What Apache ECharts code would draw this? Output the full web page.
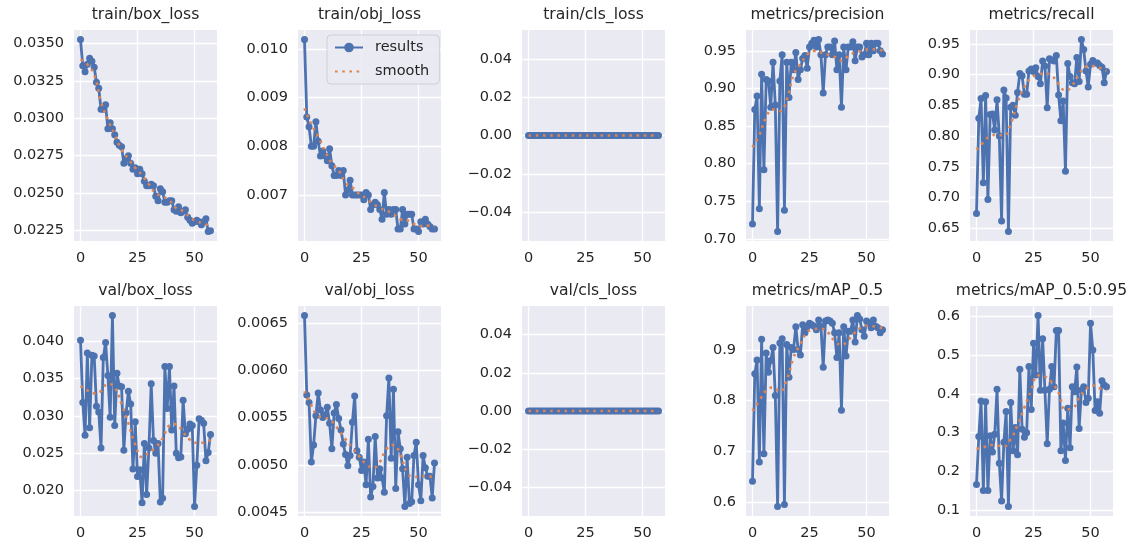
<!DOCTYPE html>
<html>
<head>
<meta charset="UTF-8">
<title>results</title>
<script src="https://cdn.jsdelivr.net/npm/echarts@6.0.0/dist/echarts.min.js"></script>
<style>
  body { margin: 0; background: #fff; }
  #main { width: 1134px; height: 546px; }
</style>
</head>
<body>
<div id="main"></div>
<script>
// epochs 0..57
const epochs = Array.from({ length: 58 }, (_, i) => i);
const smoothEpochs = [0, 3, 6, 9, 12, 15, 18, 21, 24, 27, 30, 33, 36, 39, 42, 45, 48, 51, 54, 57];

const trainBox = [0.03525,0.0335,0.0331,0.0336,0.0340,0.0338,0.0334,0.0324,0.0320,0.0306,
  0.0306,0.0309,0.0293,0.0297,0.0293,0.0289,0.0284,0.0282,0.0281,0.0270,
  0.0273,0.0275,0.0270,0.0266,0.0267,0.0263,0.0266,0.0263,0.0258,0.0255,
  0.0255,0.0256,0.0255,0.0248,0.0245,0.0253,0.0251,0.0244,0.0244,0.0245,
  0.0245,0.0239,0.0238,0.0241,0.0237,0.0238,0.0239,0.0234,0.0232,0.0230,
  0.0231,0.0232,0.0231,0.0229,0.0231,0.0233,0.02245,0.0225];
const trainBoxSmooth = [0.0339,0.0336,0.0329,0.0311,0.0299,0.0289,0.0279,0.0273,0.0267,0.0262,
  0.0256,0.0250,0.0248,0.0245,0.0240,0.0238,0.0234,0.0231,0.0230,0.0227];

const trainObj = [0.01019,0.0086,0.0084,0.0080,0.0080,0.0085,0.0081,0.0078,0.0079,0.0078,
  0.0077,0.00795,0.0076,0.0074,0.0074,0.0075,0.0074,0.0075,0.0070,0.0071,
  0.0073,0.0070,0.0070,0.0070,0.0070,0.0070,0.0069,0.00705,0.0070,0.0067,
  0.0068,0.00685,0.0068,0.0067,0.0065,0.00705,0.0066,0.0067,0.0066,0.0067,
  0.0067,0.0063,0.0063,0.0067,0.0064,0.0066,0.0066,0.0066,0.0063,0.0063,
  0.00625,0.00645,0.0064,0.0065,0.0064,0.00635,0.0063,0.0063];
const trainObjSmooth = [0.00878,0.00845,0.00820,0.00790,0.00765,0.00750,0.00725,0.00715,0.00702,0.00693,
  0.00682,0.00673,0.00668,0.00660,0.00650,0.00648,0.00640,0.00636,0.00637,0.00635];

const trainCls = [0,0,0,0,0,0,0,0,0,0,0,0,0,0,0,0,0,0,0,0,0,0,0,0,0,0,0,0,0,0,
  0,0,0,0,0,0,0,0,0,0,0,0,0,0,0,0,0,0,0,0,0,0,0,0,0,0,0,0];
const trainClsSmooth = [0,0,0,0,0,0,0,0,0,0,0,0,0,0,0,0,0,0,0,0];

const precision = [0.720,0.872,0.890,0.740,0.919,0.792,0.912,0.910,0.875,0.935,
  0.878,0.710,0.910,0.945,0.738,0.935,0.888,0.935,0.925,0.948,
  0.912,0.925,0.940,0.944,0.927,0.955,0.960,0.964,0.955,0.965,
  0.945,0.894,0.945,0.955,0.955,0.945,0.963,0.925,0.945,0.875,
  0.955,0.925,0.955,0.955,0.962,0.937,0.955,0.955,0.942,0.945,
  0.960,0.945,0.960,0.950,0.960,0.960,0.950,0.946];
const precisionSmooth = [0.822,0.838,0.862,0.872,0.870,0.885,0.918,0.932,0.945,0.950,
  0.948,0.945,0.942,0.937,0.943,0.948,0.950,0.952,0.952,0.950];

const recall = [0.674,0.829,0.861,0.724,0.866,0.697,0.835,0.836,0.810,0.859,
  0.800,0.662,0.875,0.862,0.645,0.847,0.850,0.834,0.871,0.902,
  0.898,0.868,0.868,0.906,0.909,0.905,0.911,0.897,0.885,0.922,
  0.914,0.846,0.926,0.924,0.922,0.931,0.867,0.825,0.857,0.743,
  0.918,0.897,0.887,0.885,0.928,0.889,0.957,0.941,0.906,0.880,
  0.917,0.923,0.919,0.919,0.915,0.912,0.887,0.905];
const recallSmooth = [0.778,0.790,0.800,0.802,0.801,0.820,0.855,0.880,0.895,0.900,
  0.902,0.898,0.885,0.874,0.883,0.900,0.913,0.914,0.911,0.906];

const valBox = [0.0401,0.0318,0.0274,0.0384,0.0284,0.0381,0.0380,0.0313,0.0305,0.0257,
  0.0378,0.0398,0.0354,0.0298,0.0434,0.0287,0.0357,0.0340,0.0339,0.0254,
  0.0304,0.0333,0.0316,0.0229,0.0292,0.0219,0.0228,0.0184,0.0263,0.0195,
  0.0257,0.0343,0.0267,0.0250,0.0263,0.0185,0.0190,0.0366,0.0310,0.0366,
  0.0281,0.0340,0.0250,0.0244,0.0245,0.0321,0.0276,0.0282,0.0289,0.0287,
  0.0179,0.0234,0.0296,0.0294,0.0290,0.0240,0.0251,0.0275];
const valBoxSmooth = [0.0340,0.0334,0.0330,0.0333,0.0343,0.0338,0.0316,0.0290,0.0262,0.0245,
  0.0251,0.0258,0.0270,0.0287,0.0289,0.0278,0.0268,0.0264,0.0264,0.0268];

const valObj = [0.00658,0.00574,0.00566,0.00503,0.00521,0.00552,0.00576,0.00558,0.00550,0.00553,
  0.00561,0.00544,0.00517,0.00555,0.00564,0.00549,0.00537,0.00522,0.00511,0.00499,
  0.00510,0.00545,0.00573,0.00515,0.00508,0.00494,0.00503,0.00479,0.00527,0.00466,
  0.00477,0.00530,0.00486,0.00496,0.00486,0.00471,0.00552,0.00592,0.00507,0.00580,
  0.00475,0.00535,0.00517,0.00496,0.00456,0.00508,0.00459,0.00461,0.00510,0.00524,
  0.00479,0.00462,0.00510,0.00497,0.00488,0.00488,0.00465,0.00502];
const valObjSmooth = [0.00578,0.00563,0.00552,0.00550,0.00546,0.00537,0.00527,0.00518,0.00509,0.00501,
  0.00497,0.00503,0.00517,0.00521,0.00511,0.00492,0.00487,0.00488,0.00488,0.00486];

const valCls = [0,0,0,0,0,0,0,0,0,0,0,0,0,0,0,0,0,0,0,0,0,0,0,0,0,0,0,0,0,0,
  0,0,0,0,0,0,0,0,0,0,0,0,0,0,0,0,0,0,0,0,0,0,0,0,0,0,0,0];
const valClsSmooth = [0,0,0,0,0,0,0,0,0,0,0,0,0,0,0,0,0,0,0,0];

const map50 = [0.641,0.853,0.880,0.679,0.921,0.695,0.894,0.856,0.879,0.905,
  0.810,0.591,0.914,0.922,0.595,0.911,0.846,0.905,0.901,0.946,
  0.901,0.890,0.950,0.934,0.946,0.953,0.950,0.947,0.940,0.959,
  0.947,0.866,0.957,0.959,0.957,0.953,0.934,0.885,0.934,0.781,
  0.946,0.888,0.937,0.937,0.959,0.916,0.968,0.961,0.940,0.927,
  0.957,0.953,0.944,0.959,0.947,0.944,0.934,0.940];
const map50Smooth = [0.780,0.800,0.820,0.826,0.818,0.840,0.885,0.912,0.935,0.941,
  0.942,0.935,0.918,0.910,0.920,0.935,0.945,0.948,0.946,0.943];

const map5095 = [0.166,0.290,0.382,0.150,0.380,0.150,0.292,0.250,0.296,0.412,
  0.221,0.123,0.275,0.355,0.109,0.378,0.253,0.313,0.243,0.464,
  0.309,0.288,0.300,0.471,0.360,0.531,0.449,0.603,0.410,0.543,
  0.410,0.271,0.412,0.471,0.419,0.564,0.564,0.253,0.325,0.228,
  0.363,0.261,0.419,0.406,0.470,0.311,0.410,0.419,0.378,0.389,
  0.583,0.514,0.357,0.380,0.350,0.434,0.423,0.419];
const map5095Smooth = [0.258,0.262,0.268,0.267,0.265,0.283,0.320,0.365,0.410,0.448,
  0.445,0.430,0.403,0.360,0.363,0.390,0.412,0.422,0.415,0.410];

// tick labels
const xTicks = [0, 25, 50];
const trainBoxTicks = [0.0225, 0.025, 0.0275, 0.03, 0.0325, 0.035];
const trainObjTicks = [0.007, 0.008, 0.009, 0.010];
const clsTicks = [-0.04, -0.02, 0, 0.02, 0.04];
const precisionTicks = [0.70, 0.75, 0.80, 0.85, 0.90, 0.95];
const recallTicks = [0.65, 0.70, 0.75, 0.80, 0.85, 0.90, 0.95];
const valBoxTicks = [0.020, 0.025, 0.030, 0.035, 0.040];
const valObjTicks = [0.0045, 0.0050, 0.0055, 0.0060, 0.0065];
const map50Ticks = [0.6, 0.7, 0.8, 0.9];
const map5095Ticks = [0.1, 0.2, 0.3, 0.4, 0.5, 0.6];

const panels = [
  { title: 'train/box_loss', y: trainBox, s: trainBoxSmooth, ticks: trainBoxTicks, digits: 4 },
  { title: 'train/obj_loss', y: trainObj, s: trainObjSmooth, ticks: trainObjTicks, digits: 3 },
  { title: 'train/cls_loss', y: trainCls, s: trainClsSmooth, ticks: clsTicks, digits: 2, flat: true },
  { title: 'metrics/precision', y: precision, s: precisionSmooth, ticks: precisionTicks, digits: 2 },
  { title: 'metrics/recall', y: recall, s: recallSmooth, ticks: recallTicks, digits: 2 },
  { title: 'val/box_loss', y: valBox, s: valBoxSmooth, ticks: valBoxTicks, digits: 3 },
  { title: 'val/obj_loss', y: valObj, s: valObjSmooth, ticks: valObjTicks, digits: 4 },
  { title: 'val/cls_loss', y: valCls, s: valClsSmooth, ticks: clsTicks, digits: 2, flat: true },
  { title: 'metrics/mAP_0.5', y: map50, s: map50Smooth, ticks: map50Ticks, digits: 1 },
  { title: 'metrics/mAP_0.5:0.95', y: map5095, s: map5095Smooth, ticks: map5095Ticks, digits: 1 }
];

const FONT = 'DejaVu Sans';
const TEXT = '#262626';
const BLUE = '#4C72B0';
const ORANGE = '#DD8452';

const grids = [], xAxes = [], yAxes = [], series = [], titles = [];

panels.forEach((p, i) => {
  const row = Math.floor(i / 5), col = i % 5;
  const left = 74 + col * 224;
  const top = row ? 306 : 30;
  const height = row ? 210 : 211;
  const width = 143;

  grids.push({ left: left, top: top, width: width, height: height, show: true,
    backgroundColor: '#EAEAF2', borderWidth: 0 });

  titles.push({ text: p.title, left: left + width / 2, top: row ? 283 : 7, textAlign: 'center', padding: 0,
    textStyle: { fontFamily: FONT, fontSize: 15.6, fontWeight: 'normal', color: TEXT } });

  xAxes.push({
    type: 'value', gridIndex: i, min: -2.85, max: 59.85,
    axisLine: { show: false },
    axisTick: { show: false, customValues: xTicks },
    axisLabel: { customValues: xTicks, fontFamily: FONT, fontSize: 14.5, color: TEXT, margin: 10 },
    splitLine: { show: true, lineStyle: { color: '#ffffff', width: 1.3 } }
  });

  const yAxis = {
    type: 'value', gridIndex: i,
    axisLine: { show: false },
    axisTick: { show: false, customValues: p.ticks },
    axisLabel: { customValues: p.ticks, fontFamily: FONT, fontSize: 14.5, color: TEXT, margin: 10,
      formatter: (v) => Number(v).toFixed(p.digits).replace('-', '\u2212') },
    splitLine: { show: true, lineStyle: { color: '#ffffff', width: 1.3 } }
  };
  if (p.flat) {
    yAxis.min = -0.055; yAxis.max = 0.055;
  } else {
    yAxis.min = (v) => v.min - 0.05 * (v.max - v.min);
    yAxis.max = (v) => v.max + 0.05 * (v.max - v.min);
  }
  yAxes.push(yAxis);

  series.push({
    name: 'results', type: 'line', xAxisIndex: i, yAxisIndex: i,
    data: epochs.map((e, k) => [e, p.y[k]]),
    symbol: 'circle', symbolSize: 7, showSymbol: true, showAllSymbol: true,
    itemStyle: { color: BLUE },
    lineStyle: { color: BLUE, width: 2.8 },
    emphasis: { disabled: true }, z: 2
  });
  series.push({
    name: 'smooth', type: 'line', xAxisIndex: i, yAxisIndex: i,
    data: smoothEpochs.map((e, k) => [e, p.s[k]]),
    symbol: 'none', smooth: true,
    itemStyle: { color: ORANGE },
    lineStyle: { color: ORANGE, width: 2.6, type: [2.6, 4.6] },
    emphasis: { disabled: true }, z: 3
  });
});

const chart = echarts.init(document.getElementById('main'));
chart.setOption({
  animation: false,
  backgroundColor: '#ffffff',
  textStyle: { fontFamily: FONT },
  title: titles,
  legend: {
    data: [
      { name: 'results' },
      { name: 'smooth', itemStyle: { color: 'rgba(0,0,0,0)', borderWidth: 0 } }
    ],
    orient: 'vertical', left: 327, top: 35,
    itemWidth: 28, itemHeight: 12, itemGap: 9,
    padding: [5, 10, 5, 7],
    backgroundColor: 'rgba(234,234,242,0.85)', borderColor: '#cfcfd6', borderWidth: 1, borderRadius: 4,
    textStyle: { fontFamily: FONT, fontSize: 14.5, color: TEXT, padding: [0, 0, 0, 7] }
  },
  grid: grids,
  xAxis: xAxes,
  yAxis: yAxes,
  series: series
});
</script>
</body>
</html>
